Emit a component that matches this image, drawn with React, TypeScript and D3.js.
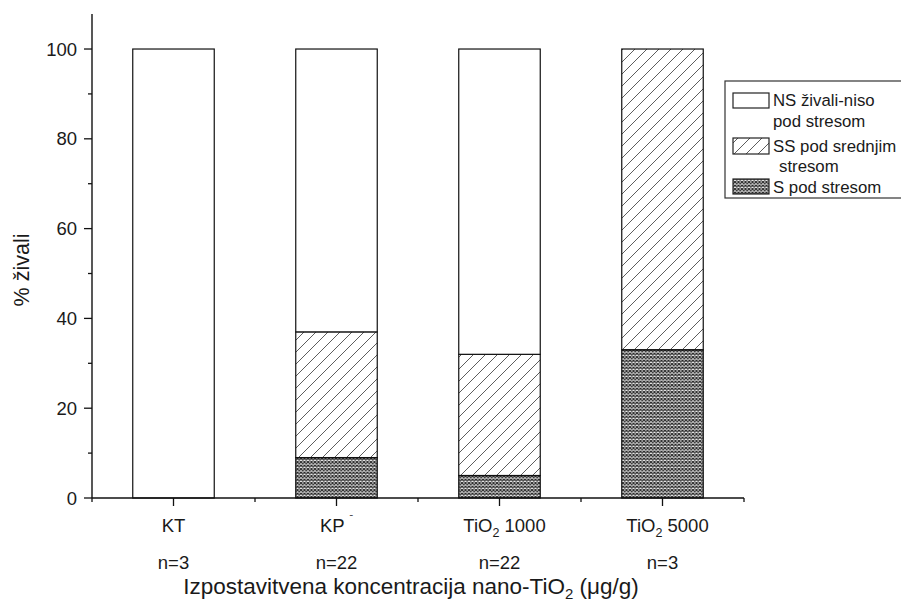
import React from "react";
import * as d3 from "d3";

const categories = ["KT", "KP", "TiO2 1000", "TiO2 5000"];
const nLabels = ["n=3", "n=22", "n=22", "n=3"];
const sValues = [0, 9, 5, 33];
const ssValues = [0, 28, 27, 67];
const nsValues = [100, 63, 68, 0];
const yMajorTicks = [0, 20, 40, 60, 80, 100];
const yMinorTicks = [10, 30, 50, 70, 90];
const seriesKeys = ["S", "SS", "NS"];

const W = 901;
const H = 603;
const FONT = "'Liberation Sans', Arial, sans-serif";
const TXT = "#1a1a1a";
const TICK_FS = 18.5;
const LEG_FS = 16.8;

export default function App() {
  const x = d3.scaleBand<string>().domain(categories).range([92, 744]).paddingInner(0.5).paddingOuter(0.25);
  const y = d3.scaleLinear().domain([0, 107.8]).range([498, 14]);
  const rows = categories.map((c, i) => ({ cat: c, S: sValues[i], SS: ssValues[i], NS: nsValues[i] }));
  const stacked = d3.stack<any>().keys(seriesKeys)(rows);
  const fills: Record<string, string> = { S: "url(#cross)", SS: "url(#hatch)", NS: "#ffffff" };
  const step = x.step();
  const x0 = 92;
  const boundaries = d3.range(categories.length + 1).map((i) => x0 + i * step);

  const catLabel = (c: string) => {
    if (c.startsWith("TiO2")) {
      const rest = c.slice(4);
      return (
        <>
          TiO<tspan fontSize={12.5} dy={5}>2</tspan>
          <tspan dy={-5}>{rest}</tspan>
        </>
      );
    }
    if (c === "KP") return <>KP <tspan fontSize={11} dy={-9}>ˉ</tspan></>;
    return c;
  };

  return (
    <svg width={W} height={H} style={{ position: "absolute", left: 0, top: 0, background: "#fff" }} fontFamily={FONT}>
      <defs>
        <pattern id="hatch" patternUnits="userSpaceOnUse" width={12} height={12}>
          <path d="M-3,3 L3,-3 M0,12 L12,0 M9,15 L15,9" stroke="#333" strokeWidth={0.8} />
        </pattern>
        <pattern id="cross" patternUnits="userSpaceOnUse" width={3.5} height={3.5}>
          <rect width={3.5} height={3.5} fill="#ffffff" />
          <path d="M0,0 L3.5,3.5 M3.5,0 L0,3.5" stroke="#262626" strokeWidth={1.2} />
        </pattern>
      </defs>

      {/* bars */}
      {stacked.map((layer) => (
        <g key={layer.key}>
          {layer.map((d, i) => {
            const h = y(d[0]) - y(d[1]);
            if (h <= 0) return null;
            return (
              <rect
                key={i}
                x={x(categories[i])!}
                y={y(d[1])}
                width={x.bandwidth()}
                height={h}
                fill={fills[layer.key]}
                stroke="#111"
                strokeWidth={1.2}
              />
            );
          })}
        </g>
      ))}

      {/* y axis */}
      <line x1={92} x2={92} y1={y(107.8)} y2={498} stroke="#111" strokeWidth={1.4} />
      {yMajorTicks.map((t) => (
        <g key={t}>
          <line x1={84} x2={92} y1={y(t)} y2={y(t)} stroke="#111" strokeWidth={1.3} />
          <text x={77} y={y(t) + 6.6} textAnchor="end" fontSize={TICK_FS} fill={TXT}>{t}</text>
        </g>
      ))}
      {yMinorTicks.map((t) => (
        <line key={t} x1={88} x2={92} y1={y(t)} y2={y(t)} stroke="#111" strokeWidth={1.3} />
      ))}
      <text transform={`translate(29,${270}) rotate(-90)`} textAnchor="middle" fontSize={21.5} fill={TXT}>% živali</text>

      {/* x axis */}
      <line x1={92} x2={boundaries[boundaries.length - 1]} y1={498} y2={498} stroke="#111" strokeWidth={1.4} />
      {boundaries.map((b, i) => (
        <line key={i} x1={b} x2={b} y1={498} y2={502} stroke="#111" strokeWidth={1.3} />
      ))}
      {categories.map((c, i) => {
        const cx = x(c)! + x.bandwidth() / 2;
        return (
          <g key={c}>
            <line x1={cx} x2={cx} y1={498} y2={506} stroke="#111" strokeWidth={1.3} />
            <text x={cx + (c.startsWith("TiO2") ? 5 : 0)} y={532} textAnchor="middle" fontSize={TICK_FS} fill={TXT}>{catLabel(c)}</text>
            <text x={cx} y={569} textAnchor="middle" fontSize={TICK_FS} fill={TXT}>{nLabels[i]}</text>
          </g>
        );
      })}
      <text x={411} y={594} textAnchor="middle" fontSize={22.5} fill={TXT}>
        Izpostavitvena koncentracija nano-TiO<tspan fontSize={15} dy={5}>2</tspan><tspan dy={-5}> (μg/g)</tspan>
      </text>

      {/* legend */}
      <rect x={725} y={81} width={200} height={117} fill="#fff" stroke="#333" strokeWidth={1.2} />
      <rect x={733} y={93} width={36} height={15} fill="#fff" stroke="#222" strokeWidth={1.2} />
      <text x={773} y={106} fontSize={LEG_FS} fill={TXT}>NS živali-niso</text>
      <text x={773} y={127} fontSize={LEG_FS} fill={TXT}>pod stresom</text>
      <rect x={733} y={138} width={36} height={16} fill="url(#hatch)" stroke="#222" strokeWidth={1.2} />
      <text x={773} y={152} fontSize={LEG_FS} fill={TXT}>SS pod srednjim</text>
      <text x={779} y={172} fontSize={LEG_FS} fill={TXT}>stresom</text>
      <rect x={733} y={179} width={36} height={15} fill="url(#cross)" stroke="#222" strokeWidth={1.2} />
      <text x={773} y={193} fontSize={LEG_FS} fill={TXT}>S pod stresom</text>
    </svg>
  );
}
